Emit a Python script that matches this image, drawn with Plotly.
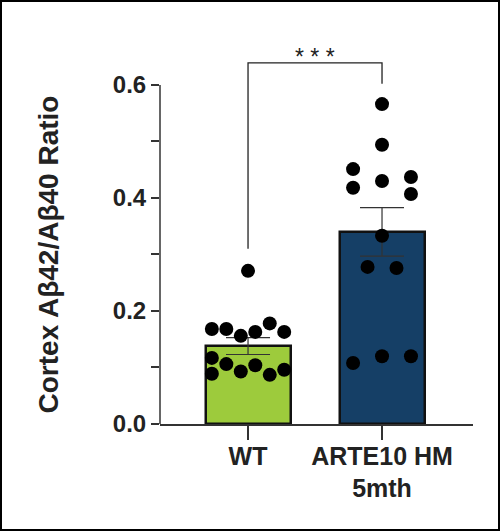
import plotly.graph_objects as go

categories = ["WT", "ARTE10 HM<br>5mth"]
bar_means = [0.138, 0.340]
bar_sems = [0.015, 0.043]

wt_values = [0.271, 0.168, 0.168, 0.156, 0.163, 0.178, 0.163,
             0.117, 0.089, 0.106, 0.093, 0.104, 0.087, 0.096]
arte_values = [0.566, 0.494, 0.451, 0.418, 0.430, 0.437, 0.407,
               0.333, 0.278, 0.276, 0.108, 0.120, 0.120]

# horizontal slot of each dot (beeswarm layout)
wt_slots = [0, -2.5, -1.5, -0.5, 0.5, 1.5, 2.5, -2.5, -2.5, -1.5, -0.5, 0.5, 1.5, 2.5]
arte_slots = [0, 0, -2, -2, 0, 2, 2, 0, -1, 1, -2, 0, 2]

y_ticks = [0.0, 0.2, 0.4, 0.6]
y_tick_labels = ["0.0", "0.2", "0.4", "0.6"]
y_minor = [0.1, 0.3, 0.5]
y_title = "Cortex Aβ42/Aβ40 Ratio"
sig_label = "* * *"
bracket_y = 0.639
bracket_left_bottom = 0.31
bracket_right_bottom = 0.602

FONT = "Liberation Sans, Arial, sans-serif"
TXT = "#222222"
AX = "#333333"
slot_w = 0.108
W, H = 500, 531
ML, MR, MT, MB = 160, 27, 51, 107
PW, PH = W - ML - MR, H - MT - MB

fig = go.Figure()
fig.add_trace(go.Bar(
    x=[0, 1], y=bar_means, width=0.634,
    marker=dict(color=["#9dcb3c", "#153f66"], line=dict(color="#111111", width=2.5)),
    error_y=dict(type="data", array=bar_sems, visible=True, color=AX,
                 thickness=1.2, width=22),
    showlegend=False, hoverinfo="skip",
))
fig.add_trace(go.Scatter(
    x=[0 + s * slot_w for s in wt_slots], y=wt_values, mode="markers",
    marker=dict(color="black", size=14), showlegend=False, cliponaxis=False,
))
fig.add_trace(go.Scatter(
    x=[1 + s * slot_w for s in arte_slots], y=arte_values, mode="markers",
    marker=dict(color="black", size=14), showlegend=False, cliponaxis=False,
))

# significance bracket
fig.add_shape(type="path", xref="x", yref="y",
              path=f"M 0 {bracket_left_bottom} L 0 {bracket_y} L 1 {bracket_y} L 1 {bracket_right_bottom}",
              line=dict(color=TXT, width=1.3))
fig.add_annotation(x=0.5, y=bracket_y, xref="x", yref="y", text=sig_label,
                   showarrow=False, yanchor="bottom", yshift=-9,
                   font=dict(family=FONT, size=23, color=TXT))

# y axis line (only up to the last major tick)
fig.add_shape(type="line", xref="paper", yref="y", x0=0, x1=0,
              y0=y_ticks[0], y1=y_ticks[-1], line=dict(color=AX, width=1.5))

# y axis title, centred on the drawn axis
fig.add_annotation(x=(48 - ML) / PW, xref="paper", y=(y_ticks[0] + y_ticks[-1]) / 2,
                   yref="y", text=y_title, textangle=-90, showarrow=False,
                   xanchor="center", yanchor="middle",
                   font=dict(family=FONT, size=28, color=TXT, weight="bold"))

# image frame
fig.add_shape(type="rect", xref="paper", yref="paper",
              x0=(-ML + 1) / PW, x1=1 + (MR - 1) / PW,
              y0=(-MB + 1) / PH, y1=1 + (MT - 1) / PH,
              line=dict(color="black", width=2))

fig.update_layout(
    width=W, height=H,
    margin=dict(l=ML, r=MR, t=MT, b=MB, pad=0),
    plot_bgcolor="white", paper_bgcolor="white",
    bargap=0,
    font=dict(family=FONT, color=TXT),
    xaxis=dict(range=[-0.657, 1.679], tickvals=[0, 1], ticktext=categories,
               showline=True, linecolor=AX, linewidth=1.5,
               ticks="outside", ticklen=14, tickwidth=1.5, tickcolor=AX,
               ticklabelstandoff=-5,
               tickfont=dict(family=FONT, size=25, color=TXT, weight="bold"),
               showgrid=False, zeroline=False, fixedrange=True),
    yaxis=dict(range=[0, 0.66], tickvals=y_ticks, ticktext=y_tick_labels,
               showline=False,
               ticks="outside", ticklen=8, tickwidth=1.5, tickcolor=AX,
               tickfont=dict(family=FONT, size=24, color=TXT, weight="bold"),
               minor=dict(tickvals=y_minor, ticks="outside", ticklen=8,
                          tickwidth=1.5, tickcolor=AX),
               showgrid=False, zeroline=False, fixedrange=True),
)

fig.write_html("out.html", config={"displayModeBar": False},
               post_script="document.body.style.margin='0px';")
